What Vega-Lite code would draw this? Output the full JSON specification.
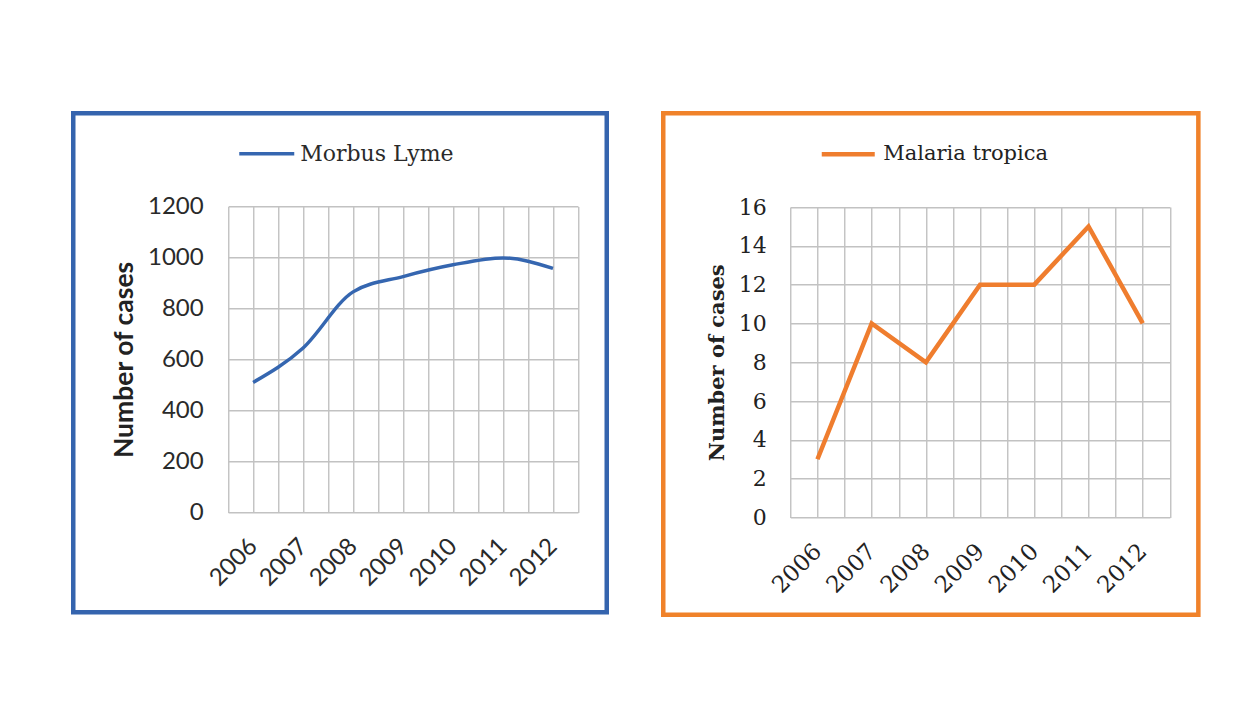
{
  "$schema": "https://vega.github.io/schema/vega-lite/v6.json",
  "background": "white",
  "padding": {"left": 70.25, "top": 110.25, "right": 0, "bottom": 0},
  "spacing": 51,
  "resolve": {"scale": {"color": "independent"}, "legend": {"color": "independent"}},
  "hconcat": [
    {
      "width": 533.5,
      "height": 499,
      "view": {"stroke": "#3564ae", "strokeWidth": 4.5, "fill": "white"},
      "data": {"values": [
        {"year": 2006, "cases": 510, "series": "Morbus Lyme"},
        {"year": 2007, "cases": 645, "series": "Morbus Lyme"},
        {"year": 2008, "cases": 865, "series": "Morbus Lyme"},
        {"year": 2009, "cases": 925, "series": "Morbus Lyme"},
        {"year": 2010, "cases": 971, "series": "Morbus Lyme"},
        {"year": 2011, "cases": 998, "series": "Morbus Lyme"},
        {"year": 2012, "cases": 957, "series": "Morbus Lyme"}
      ]},
      "resolve": {"axis": {"x": "independent"}},
      "layer": [
        {
          "mark": {"type": "line", "opacity": 0},
          "encoding": {
            "x": {
              "field": "year", "type": "quantitative",
              "scale": {"domain": [2005.5, 2012.5], "range": [154.9, 504.7], "nice": false, "zero": false},
              "axis": {
                "orient": "top",
                "values": [2005.5, 2006, 2006.5, 2007, 2007.5, 2008, 2008.5, 2009, 2009.5, 2010, 2010.5, 2011, 2011.5, 2012, 2012.5],
                "grid": true, "gridColor": "#c2c2c2", "gridWidth": 1.4,
                "domain": false, "ticks": false, "labels": false, "title": null
              }
            },
            "y": {"field": "cases", "type": "quantitative"}
          }
        },
        {
          "mark": {"type": "line", "interpolate": "monotone", "strokeWidth": 3.5},
          "encoding": {
            "x": {
              "field": "year", "type": "quantitative",
              "scale": {"domain": [2005.5, 2012.5], "range": [154.9, 504.7], "nice": false, "zero": false},
              "axis": {
                "orient": "bottom", "offset": -99.8,
                "values": [2006, 2007, 2008, 2009, 2010, 2011, 2012],
                "format": "d",
                "grid": false,
                "domain": false, "ticks": false, "tickSize": 0,
                "labelAngle": -45, "labelAlign": "right", "labelBaseline": "middle",
                "labelPadding": 30, "labelFont": "Lato", "labelFontSize": 24, "labelColor": "#2a2a2a",
                "labelOverlap": false, "labelFlush": false, "title": null
              }
            },
            "y": {
              "field": "cases", "type": "quantitative",
              "scale": {"domain": [0, 1200], "range": [399.2, 93.2], "nice": false},
              "axis": {
                "orient": "left", "offset": -154.9,
                "values": [0, 200, 400, 600, 800, 1000, 1200],
                "format": "d",
                "grid": true, "gridColor": "#c2c2c2", "gridWidth": 1.4,
                "domain": false, "ticks": false, "tickSize": 0,
                "labelPadding": 25, "labelFont": "Lato", "labelFontSize": 24, "labelColor": "#2a2a2a",
                "labelOverlap": false, "labelFlush": false,
                "title": "Number of cases", "titleFont": "Lato", "titleFontSize": 26.5, "titleFontWeight": "bold",
                "titleColor": "#222222", "titlePadding": 9
              }
            },
            "color": {
              "field": "series", "type": "nominal",
              "scale": {"range": ["#3566b0"]},
              "legend": {
                "orient": "none", "legendX": 164, "legendY": 11, "title": null, "padding": 0,
                "symbolType": "stroke", "symbolSize": 3025, "symbolStrokeWidth": 3.5,
                "labelFont": "DejaVu Serif", "labelFontSize": 22, "labelOffset": 4, "labelColor": "#2a2a2a",
                "labelLimit": 400
              }
            }
          }
        }
      ]
    },
    {
      "width": 535.1,
      "height": 501.5,
      "view": {"stroke": "#f0822a", "strokeWidth": 4.5, "fill": "white"},
      "data": {"values": [
        {"year": 2006, "cases": 3, "series": "Malaria tropica"},
        {"year": 2007, "cases": 10, "series": "Malaria tropica"},
        {"year": 2008, "cases": 8, "series": "Malaria tropica"},
        {"year": 2009, "cases": 12, "series": "Malaria tropica"},
        {"year": 2010, "cases": 12, "series": "Malaria tropica"},
        {"year": 2011, "cases": 15, "series": "Malaria tropica"},
        {"year": 2012, "cases": 10, "series": "Malaria tropica"}
      ]},
      "resolve": {"axis": {"x": "independent"}},
      "layer": [
        {
          "mark": {"type": "line", "opacity": 0},
          "encoding": {
            "x": {
              "field": "year", "type": "quantitative",
              "scale": {"domain": [2005.5, 2012.5], "range": [127.1, 506.6], "nice": false, "zero": false},
              "axis": {
                "orient": "top",
                "values": [2005.5, 2006, 2006.5, 2007, 2007.5, 2008, 2008.5, 2009, 2009.5, 2010, 2010.5, 2011, 2011.5, 2012, 2012.5],
                "grid": true, "gridColor": "#c2c2c2", "gridWidth": 1.4,
                "domain": false, "ticks": false, "labels": false, "title": null
              }
            },
            "y": {"field": "cases", "type": "quantitative"}
          }
        },
        {
          "mark": {"type": "line", "strokeWidth": 4.5},
          "encoding": {
            "x": {
              "field": "year", "type": "quantitative",
              "scale": {"domain": [2005.5, 2012.5], "range": [127.1, 506.6], "nice": false, "zero": false},
              "axis": {
                "orient": "bottom", "offset": -97.3,
                "values": [2006, 2007, 2008, 2009, 2010, 2011, 2012],
                "format": "d",
                "grid": false,
                "domain": false, "ticks": false, "tickSize": 0,
                "labelAngle": -45, "labelAlign": "right", "labelBaseline": "middle",
                "labelPadding": 30, "labelFont": "DejaVu Serif", "labelFontSize": 23, "labelColor": "#222222",
                "labelOverlap": false, "labelFlush": false, "title": null
              }
            },
            "y": {
              "field": "cases", "type": "quantitative",
              "scale": {"domain": [0, 16], "range": [404.2, 93.8], "nice": false},
              "axis": {
                "orient": "left", "offset": -127.1,
                "values": [0, 2, 4, 6, 8, 10, 12, 14, 16],
                "grid": true, "gridColor": "#c2c2c2", "gridWidth": 1.4,
                "domain": false, "ticks": false, "tickSize": 0,
                "labelPadding": 24, "labelFont": "DejaVu Serif", "labelFontSize": 22, "labelColor": "#222222",
                "labelOverlap": false, "labelFlush": false,
                "title": "Number of cases", "titleFont": "DejaVu Serif", "titleFontSize": 21, "titleFontWeight": "bold",
                "titleColor": "#222222", "titlePadding": 11
              }
            },
            "color": {
              "field": "series", "type": "nominal",
              "scale": {"range": ["#ef7d2e"]},
              "legend": {
                "orient": "none", "legendX": 156, "legendY": 12, "title": null, "padding": 0,
                "symbolType": "stroke", "symbolSize": 2809, "symbolStrokeWidth": 4.5,
                "labelFont": "DejaVu Serif", "labelFontSize": 21, "labelOffset": 6, "labelColor": "#222222",
                "labelLimit": 400
              }
            }
          }
        }
      ]
    }
  ]
}
